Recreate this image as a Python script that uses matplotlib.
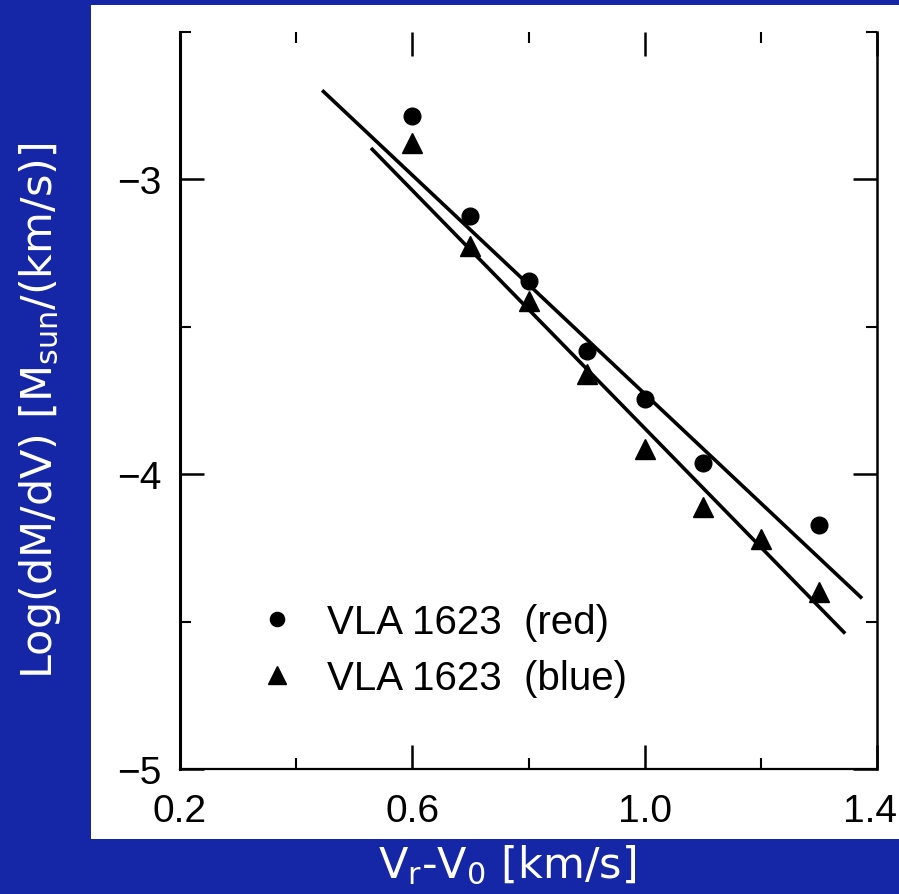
import matplotlib
matplotlib.use("Agg")
import matplotlib.pyplot as plt
from matplotlib.patches import Rectangle
from matplotlib.ticker import MultipleLocator
from matplotlib.transforms import ScaledTranslation

# dados (VLA 1623, lobulos vermelho e azul)
v_red = [0.6, 0.7, 0.8, 0.9, 1.0, 1.1, 1.3]
logdm_red = [-2.786, -3.125, -3.346, -3.583, -3.746, -3.963, -4.173]

v_blue = [0.6, 0.7, 0.8, 0.9, 1.0, 1.1, 1.2, 1.3]
logdm_blue = [-2.875, -3.227, -3.414, -3.661, -3.915, -4.112, -4.22, -4.40]

# ajustes lineares desenhados (extremos)
fit_red_x = [0.447, 1.372]
fit_red_y = [-2.702, -4.417]
fit_blue_x = [0.531, 1.343]
fit_blue_y = [-2.898, -4.536]

xticks = [0.2, 0.6, 1.0, 1.4]
yticks = [-5, -4, -3]
labels = ["VLA 1623  (red)", "VLA 1623  (blue)"]

FUNDO = "#1526a6"

fig = plt.figure(figsize=(8.99, 8.95), dpi=100, facecolor=FUNDO)
fig.patches.append(Rectangle((91 / 899, 1 - 840 / 895), 808 / 899, 834 / 895,
                             transform=fig.transFigure, facecolor="white",
                             edgecolor="none", zorder=-5))

ax = fig.add_axes([180 / 899, 125 / 895, 697 / 899, 737 / 895])
ax.set_zorder(3)
ax.set_facecolor("none")

ax.plot(fit_red_x, fit_red_y, color="black", lw=2.6)
ax.plot(fit_blue_x, fit_blue_y, color="black", lw=2.6)
h1, = ax.plot(v_red, logdm_red, "o", color="black", ms=12, ls="none")
h2, = ax.plot(v_blue, logdm_blue, "^", color="black", ms=15, ls="none")

ax.set_xlim(0.2, 1.4)
ax.set_ylim(-5, -2.5)
ax.xaxis.set_major_locator(MultipleLocator(0.4))
ax.xaxis.set_minor_locator(MultipleLocator(0.2))
ax.yaxis.set_major_locator(MultipleLocator(1))
ax.yaxis.set_minor_locator(MultipleLocator(0.5))
ax.set_xticks(xticks)
ax.set_yticks(yticks)
ax.set_xticklabels([f"{t:.1f}" for t in xticks])
ax.set_yticklabels([f"\u2212{abs(t)}" for t in yticks])

ax.spines["top"].set_visible(False)
ax.spines["left"].set_linewidth(2.2)
ax.spines["bottom"].set_linewidth(1.6)
ax.spines["right"].set_linewidth(1.8)

fonte = "Liberation Sans"
ax.tick_params(which="both", direction="in", top=True, right=True, color="black")
ax.tick_params(which="major", length=17, width=1.8, labelsize=28)
ax.tick_params(which="minor", length=8, width=1.5)
ax.tick_params(axis="x", which="major", pad=17)
ax.tick_params(axis="y", which="major", pad=13)
for lab in ax.get_xticklabels() + ax.get_yticklabels():
    lab.set_fontfamily(fonte)

# o "1.4" fica um pouco para dentro na figura original
ultimo = ax.get_xticklabels()[-1]
ultimo.set_transform(ultimo.get_transform() + ScaledTranslation(-7 / 100, 0, fig.dpi_scale_trans))

leg = ax.legend([h1, h2], labels, loc="center left", bbox_to_anchor=(0.11, 0.161),
                frameon=False, prop={"family": fonte, "size": 29},
                handlelength=1.0, handletextpad=0.75, labelspacing=0.45,
                borderpad=0, borderaxespad=0, markerscale=0.85)

fig.text(507 / 899, 1 - 866 / 895, r"V$_\mathregular{r}$-V$_\mathregular{0}$ [km/s]",
         color="white", fontsize=31, ha="center", va="center", family="DejaVu Sans")
fig.text(40 / 899, 1 - 411 / 895, r"Log(dM/dV) [M$_\mathregular{sun}$/(km/s)]",
         color="white", fontsize=31, ha="center", va="center", rotation=90,
         family="DejaVu Sans")

fig.savefig("out.png", dpi=100, facecolor=FUNDO)
